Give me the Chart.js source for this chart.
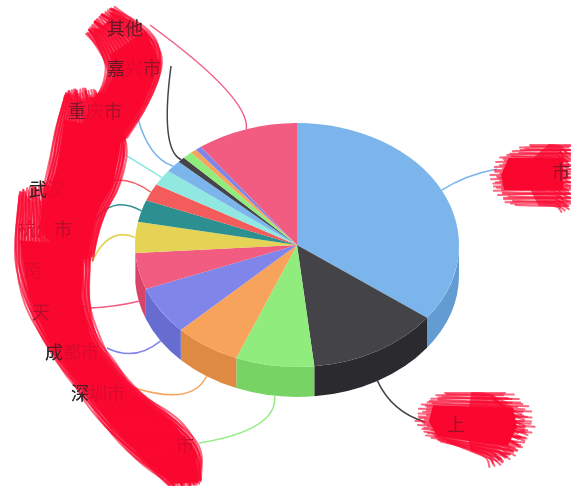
<!DOCTYPE html>
<html>
<head>
    <meta charset="utf-8">
    <title>城市占比</title>
    <style>
        html, body { margin: 0; padding: 0; background: #fff; }
        canvas { display: block; }
    </style>
</head>
<body>
    <canvas id="pie" width="571" height="486"></canvas>
    <script src="https://cdn.jsdelivr.net/npm/chart.js"></script>
    <script>
        // names behind the scribbles are best guesses, the three thin slices have no label
        const categories = ["北京市", "上海市", "广州市", "深圳市", "成都市", "天津市", "南京市", "杭州市", "武汉市", "苏州市", "重庆市", "嘉兴市", "", "", "", "其他"];
        const values = [351, 131, 78, 66, 64, 48, 41, 29, 23, 21, 16, 7, 10, 6, 6, 101];
        const colors = ["#7cb5ec", "#434348", "#90ed7d", "#f7a35c", "#8085e9", "#f15c80", "#e4d354", "#2b908f", "#f45b5b", "#91e8e1", "#7cb5ec", "#434348", "#90ed7d", "#f7a35c", "#8085e9", "#f15c80"];

        const squash = 0.753;
        const depth = 30;

        // where each label sits, and how its leader bends: [textX, textY, lineEndX, lineEndY, bendX, bendY]
        const labelSpots = [
            [516, 172, 497, 169, 465, 175],
            [447, 424, 425, 422, 392, 412],
            [140, 445, 199, 443, 278, 430],
            [71, 393, 135, 388, 192, 406],
            [45, 352, 107, 348, 135, 362],
            [32, 312, 90, 308, 115, 307],
            [24, 270, 92, 262, 108, 226],
            [18, 229, 93, 223, 112, 194],
            [29, 189, 105, 182, 128, 175],
            [60, 150, 122, 153, 142, 165],
            [68, 111, 137, 115, 148, 158],
            [107, 68, 171, 66, 160, 150],
            null, null, null,
            [107, 28, 150, 25, 250, 98]
        ];

        // how much of each character still shows through the scribble
        const inkThrough = [[0, 0, 0.5], [0.45, 0, 0], [0, 0, 0.15], [0.8, 0.15, 0.15], [0.8, 0.15, 0.15], [0.3, 0, 0], [0.1, 0, 0], [0, 0, 0.3], [0.9, 0.08, 0], [0, 0, 0], [0.55, 0.1, 0.4], [0.7, 0.12, 0.45], [], [], [], [0.7, 0.6]];

        // red scribbles laid over the labels, two rails per band
        const scribbles = [
            { a: [[112, 9], [150, 28], [166, 62], [148, 105], [125, 140]], b: [[88, 32], [105, 58], [108, 78], [92, 105], [70, 150]] },
            { a: [[66, 93], [57, 118], [50, 167], [43, 190], [40, 235]], b: [[106, 95], [130, 133], [120, 187], [103, 215], [92, 262]] },
            { a: [[20, 192], [12, 240], [22, 295], [43, 340], [62, 368], [85, 397], [103, 425], [135, 458], [172, 484]], b: [[70, 190], [92, 245], [88, 300], [97, 340], [115, 365], [137, 392], [180, 422], [203, 452], [200, 482]] },
            { a: [[530, 145], [503, 158], [495, 175], [498, 190], [512, 205]], b: [[572, 145], [572, 158], [572, 175], [572, 190], [572, 205]], across: true },
            { a: [[445, 393], [425, 405], [420, 421], [430, 435], [448, 443]], b: [[505, 393], [525, 408], [530, 428], [518, 448], [500, 460]], across: true }
        ];

        function darker(hex) {
            const n = parseInt(hex.slice(1), 16);
            const ch = s => Math.max(((n >> s) & 255) - 25, 0);
            return `rgb(${ch(16)},${ch(8)},${ch(0)})`;
        }

        function lerp(p, q, t) {
            return [p[0] + (q[0] - p[0]) * t, p[1] + (q[1] - p[1]) * t];
        }

        function strand(ctx, pts) {
            ctx.beginPath();
            ctx.moveTo(pts[0][0], pts[0][1]);
            for (let i = 1; i < pts.length - 1; i++) {
                const m = lerp(pts[i], pts[i + 1], 0.5);
                ctx.quadraticCurveTo(pts[i][0], pts[i][1], m[0], m[1]);
            }
            const last = pts[pts.length - 1];
            ctx.lineTo(last[0], last[1]);
            ctx.stroke();
        }

        function drawScribble(ctx, s) {
            const last = s.a.length - 1;
            // solid core first, inset so the strands make the frayed edge
            const inset = 0.1;
            ctx.beginPath();
            if (s.across) {
                s.a.slice(1, last).forEach((p, i) => {
                    const c = lerp(p, s.b[i + 1], 0.08);
                    i ? ctx.lineTo(c[0], c[1]) : ctx.moveTo(c[0], c[1]);
                });
                s.b.slice(1, last).reverse().forEach((p, i) => {
                    const c = lerp(p, s.a[last - 1 - i], 0.12);
                    ctx.lineTo(c[0], c[1]);
                });
            } else {
                s.a.slice(1).forEach((p, i) => {
                    const c = lerp(p, s.b[i + 1], inset);
                    i ? ctx.lineTo(c[0], c[1]) : ctx.moveTo(c[0], c[1]);
                });
                s.b.slice(1).reverse().forEach((p, i) => {
                    const c = lerp(p, s.a[last - i], inset);
                    ctx.lineTo(c[0], c[1]);
                });
            }
            ctx.closePath();
            ctx.fillStyle = "rgb(250,8,48)";
            ctx.fill();

            ctx.lineWidth = 2;
            ctx.lineCap = "round";
            ctx.strokeStyle = "rgba(250,8,48,0.62)";
            if (s.across) {
                const n = 42;
                for (let j = 0; j <= n; j++) {
                    const u = j / n * last;
                    const i = Math.min(Math.floor(u), last - 1);
                    const p = lerp(s.a[i], s.a[i + 1], u - i);
                    const q = lerp(s.b[i], s.b[i + 1], u - i);
                    const w = 5 * Math.sin(j * 2.3);
                    strand(ctx, [[p[0] + w, p[1]], [(p[0] + q[0]) / 2, (p[1] + q[1]) / 2 + w / 4], [q[0] - w, q[1] + w / 4]]);
                    strand(ctx, [lerp(p, q, 0.45), lerp(p, q, 0.75), [q[0] - 7 - w, q[1] + 7]]);
                }
                return;
            }
            const width = Math.hypot(s.a[2][0] - s.b[2][0], s.a[2][1] - s.b[2][1]);
            const n = Math.round(width * 1.3);
            for (let j = 0; j <= n; j++) {
                const t = j / n;
                const pts = s.a.map((p, i) => {
                    const w = 2.6 * Math.sin(j * 1.7 + i * 2.1);
                    const c = lerp(p, s.b[i], t);
                    return [c[0] + w, c[1] - w];
                });
                // ragged ends
                const f = Math.sin(j * 3.1);
                pts[0] = lerp(pts[0], pts[1], f > 0 ? f / 5 : f / 12);
                pts[last] = lerp(pts[last], pts[last - 1], f < 0 ? -f / 6 : -f / 14);
                strand(ctx, pts);
            }
        }

        // the library's arcs give the slices: here they get the squash, the side wall and the labels
        const pie3d = {
            id: "pie3d",
            beforeDatasetsDraw(chart) {
                const ctx = chart.ctx;
                const arcs = chart.getDatasetMeta(0).data;
                arcs.forEach((arc, i) => {
                    const s = Math.max(arc.startAngle, 0);
                    const e = Math.min(arc.endAngle, Math.PI);
                    if (e <= s) return;
                    const r = arc.outerRadius;
                    ctx.beginPath();
                    ctx.ellipse(arc.x, arc.y, r, r * squash, 0, s, e);
                    ctx.ellipse(arc.x, arc.y + depth, r, r * squash, 0, e, s, true);
                    ctx.closePath();
                    ctx.fillStyle = darker(colors[i]);
                    ctx.fill();
                });
                ctx.save();
                ctx.translate(0, arcs[0].y);
                ctx.scale(1, squash);
                ctx.translate(0, -arcs[0].y);
            },
            afterDatasetsDraw(chart) {
                const ctx = chart.ctx;
                ctx.restore();
                const arcs = chart.getDatasetMeta(0).data;
                ctx.font = '18px "Noto Sans CJK SC"';
                ctx.textBaseline = "middle";
                ctx.textAlign = "left";
                arcs.forEach((arc, i) => {
                    const spot = labelSpots[i];
                    if (!spot) return;
                    const mid = (arc.startAngle + arc.endAngle) / 2;
                    const x = arc.x + arc.outerRadius * Math.cos(mid);
                    let y = arc.y + arc.outerRadius * squash * Math.sin(mid);
                    if (Math.sin(mid) > 0) y += depth;
                    ctx.beginPath();
                    ctx.moveTo(x, y);
                    ctx.quadraticCurveTo(spot[4], spot[5], spot[2], spot[3]);
                    ctx.strokeStyle = colors[i];
                    ctx.lineWidth = 1.5;
                    ctx.stroke();
                    ctx.fillStyle = "#333";
                    ctx.fillText(categories[i], spot[0], spot[1]);
                });
                scribbles.forEach(s => drawScribble(ctx, s));
                // some of the ink still shows through
                ctx.fillStyle = "#222";
                arcs.forEach((arc, i) => {
                    const spot = labelSpots[i];
                    if (!spot) return;
                    inkThrough[i].forEach((a, c) => {
                        ctx.globalAlpha = a;
                        ctx.fillText(categories[i][c], spot[0] + c * 18, spot[1]);
                    });
                });
                ctx.globalAlpha = 1;
            }
        };

        new Chart(document.getElementById("pie").getContext("2d"), {
            type: "pie",
            data: {
                labels: categories,
                datasets: [{ data: values, backgroundColor: colors, borderWidth: 0 }]
            },
            options: {
                responsive: false,
                animation: false,
                radius: 162,
                layout: { padding: { left: 23, top: 4 } },
                events: [],
                plugins: { legend: { display: false }, tooltip: { enabled: false }, title: { display: false } }
            },
            plugins: [pie3d]
        });
    </script>
</body>
</html>
